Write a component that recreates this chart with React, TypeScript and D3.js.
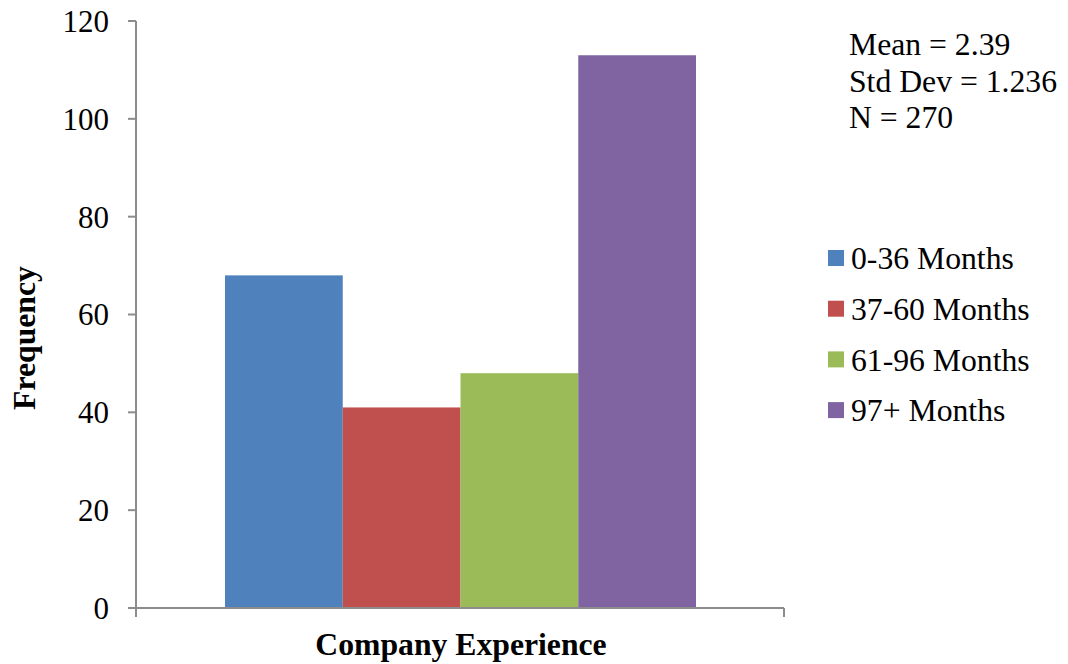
import React from "react";
import * as d3 from "d3";

const categories = ["0-36 Months", "37-60 Months", "61-96 Months", "97+ Months"];
const frequencies = [68, 41, 48, 113];
const colors = ["#4F81BD", "#C0504D", "#9BBB59", "#8064A2"];
const yTicks = [0, 20, 40, 60, 80, 100, 120];
const statsLines = ["Mean = 2.39", "Std Dev = 1.236", "N = 270"];

const W = 1068;
const H = 664;
const plotLeft = 136;
const plotRight = 784;
const plotTop = 21;
const plotBottom = 608;
const font = "'Liberation Serif', 'Times New Roman', serif";
const axisColor = "#8C8C8C";

export default function App() {
  const y = d3.scaleLinear().domain([0, 120]).range([plotBottom, plotTop]);
  const x = d3.scaleBand().domain(categories).range([225, 696]).paddingInner(0).paddingOuter(0);

  return (
    <svg width={W} height={H} style={{ position: "absolute", left: 0, top: 0, background: "#fff" }}>
      {categories.map((c, i) => (
        <rect key={c} x={x(c)} y={y(frequencies[i])} width={x.bandwidth()} height={y(0) - y(frequencies[i])} fill={colors[i]} />
      ))}
      {/* y axis */}
      <line x1={plotLeft} x2={plotLeft} y1={plotTop} y2={617} stroke={axisColor} strokeWidth={2} />
      {yTicks.map((t) => (
        <g key={t}>
          <line x1={128} x2={plotLeft} y1={y(t)} y2={y(t)} stroke={axisColor} strokeWidth={2} />
          <text x={109} y={y(t)} dy="0.35em" textAnchor="end" fontFamily={font} fontSize={31} fill="#000">
            {t}
          </text>
        </g>
      ))}
      {/* x axis */}
      <line x1={plotLeft} x2={plotRight} y1={plotBottom} y2={plotBottom} stroke={axisColor} strokeWidth={2} />
      <line x1={plotRight} x2={plotRight} y1={plotBottom} y2={617} stroke={axisColor} strokeWidth={2} />
      {/* titles */}
      <text x={461} y={655} textAnchor="middle" fontFamily={font} fontSize={31.7} fontWeight="bold" fill="#000">
        Company Experience
      </text>
      <text transform="translate(35,338) rotate(-90)" textAnchor="middle" fontFamily={font} fontSize={31.7} fontWeight="bold" fill="#000">
        Frequency
      </text>
      {/* stats */}
      {statsLines.map((s, i) => (
        <text key={s} x={849} y={55 + i * 36.5} fontFamily={font} fontSize={31.7} fill="#000">
          {s}
        </text>
      ))}
      {/* legend */}
      {categories.map((c, i) => (
        <g key={c} transform={`translate(828,${258 + i * 50.7})`}>
          <rect x={0} y={-8} width={16} height={16} fill={colors[i]} />
          <text x={23} y={0} dy="0.35em" fontFamily={font} fontSize={31.7} fill="#000">
            {c}
          </text>
        </g>
      ))}
    </svg>
  );
}
